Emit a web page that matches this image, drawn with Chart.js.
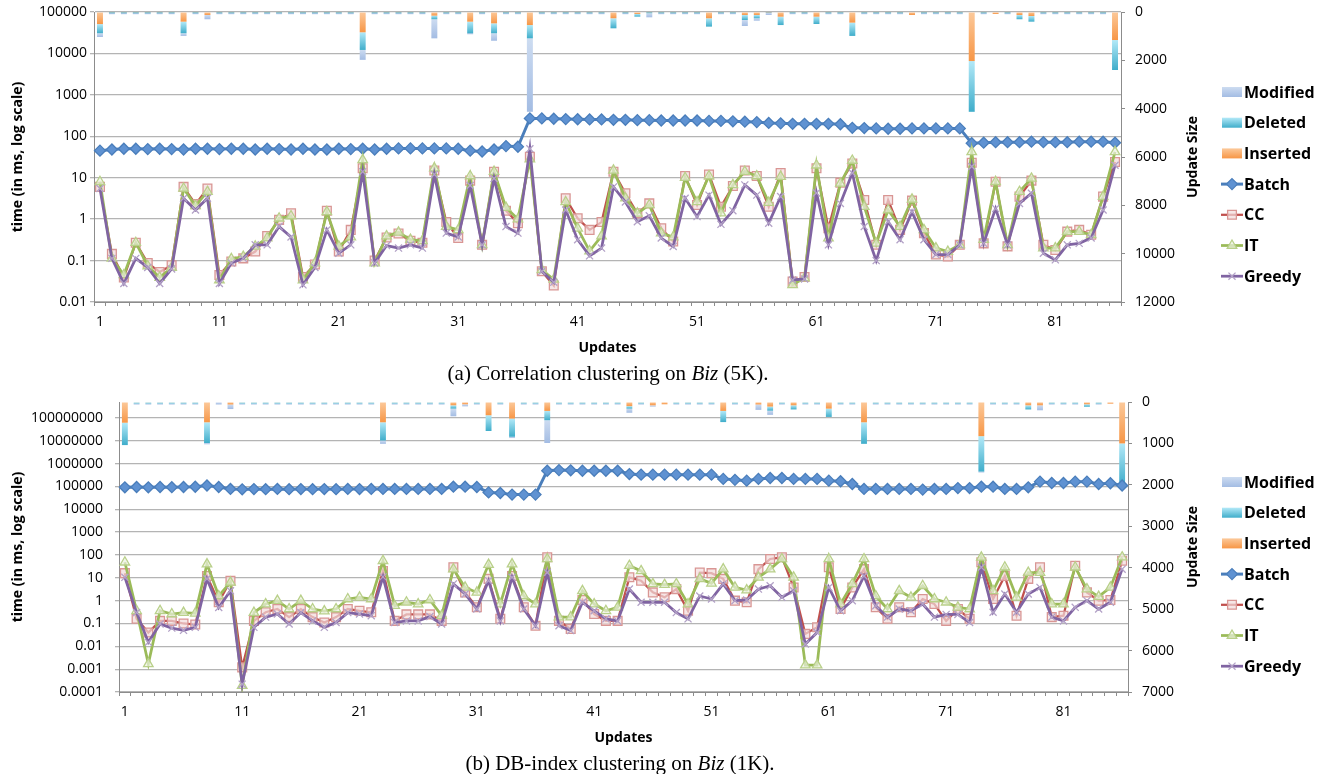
<!DOCTYPE html>
<html>
<head>
<meta charset="utf-8">
<script src="https://cdn.jsdelivr.net/npm/chart.js@4/dist/chart.umd.min.js"></script>
<style>
  html, body { margin: 0; padding: 0; background: #fff; width: 1325px; height: 774px; overflow: hidden; }
  canvas { position: absolute; left: 0; }
  .caption {
    position: absolute;
    font-family: "Liberation Serif", "Times New Roman", serif;
    font-size: 21px;
    line-height: 24px;
    color: #000;
    white-space: nowrap;
    transform: translateX(-50%);
  }
</style>
</head>
<body>
<canvas id="chartA" width="1325" height="390" style="top:0"></canvas>
<canvas id="chartB" width="1325" height="390" style="top:390px"></canvas>
<div class="caption" style="left:608px;top:361px">(a) Correlation clustering on <i>Biz</i> (5K).</div>
<div class="caption" style="left:620px;top:751px">(b) DB-index clustering on <i>Biz</i> (1K).</div>
<script>
// update number 1..86 on the x axis
const updates = Array.from({ length: 86 }, (_, i) => String(i + 1));

// ---- (a) correlation clustering, 5K ----
const timeTicksA = [0.01, 0.1, 1, 10, 100, 1000, 10000, 100000];
const sizeTicksA = [0, 2000, 4000, 6000, 8000, 10000, 12000];

const batchA = [45, 48, 50, 50, 49, 50, 49, 48, 50, 50,
  49, 50, 50, 48, 50, 49, 48, 50, 48, 48,
  50, 49, 50, 48, 50, 51, 51, 51, 51, 51,
  50, 45, 43, 48, 58, 56, 270, 270, 265, 260,
  258, 255, 255, 250, 250, 245, 245, 240, 240, 240,
  240, 235, 235, 230, 225, 220, 210, 205, 200, 200,
  200, 200, 195, 160, 158, 155, 152, 152, 155, 155,
  155, 155, 155, 68, 70, 72, 72, 72, 74, 72,
  72, 72, 74, 74, 74, 70];
const ccA = [6, 0.145, 0.039, 0.27, 0.087, 0.053, 0.077, 6, 2.3, 5.5,
  0.045, 0.095, 0.113, 0.165, 0.39, 0.96, 1.38, 0.04, 0.08, 1.6,
  0.165, 0.55, 17, 0.1, 0.36, 0.45, 0.3, 0.27, 15, 0.85,
  0.35, 8.5, 0.24, 14, 1.6, 0.8, 32, 0.055, 0.025, 3.2,
  1.05, 0.55, 0.85, 14, 4.2, 1.38, 2.4, 0.6, 0.29, 11,
  2.2, 12, 2.0, 6.3, 15, 11, 2.0, 13, 0.031, 0.04,
  17, 0.6, 7.6, 22, 2.9, 0.24, 2.9, 0.55, 2.8, 0.46,
  0.14, 0.125, 0.24, 23, 0.26, 8, 0.22, 3.5, 8.5, 0.24,
  0.18, 0.5, 0.55, 0.42, 3.5, 24];
const itA = [8, 0.113, 0.045, 0.27, 0.074, 0.039, 0.068, 5.5, 2.1, 4.6,
  0.034, 0.11, 0.125, 0.22, 0.35, 1.05, 1.19, 0.034, 0.087, 1.5,
  0.22, 0.37, 27, 0.087, 0.39, 0.48, 0.32, 0.3, 17, 0.66,
  0.55, 11, 0.24, 14, 1.9, 1.0, 28, 0.06, 0.035, 2.6,
  0.6, 0.17, 0.39, 15, 3.2, 1.38, 2.2, 0.46, 0.37, 10,
  2.6, 11, 1.4, 6.7, 14, 11, 2.5, 10.6, 0.026, 0.038,
  20, 0.35, 7.3, 26, 2.0, 0.26, 1.66, 0.66, 3.0, 0.55,
  0.2, 0.165, 0.24, 42, 0.32, 8, 0.24, 4.6, 9.6, 0.2,
  0.2, 0.5, 0.5, 0.42, 3.5, 42];
const greedyA = [5.5, 0.113, 0.028, 0.113, 0.068, 0.028, 0.063, 3.2, 1.66, 3.2,
  0.028, 0.087, 0.113, 0.24, 0.24, 0.66, 0.37, 0.026, 0.068, 0.55,
  0.15, 0.24, 14, 0.087, 0.23, 0.2, 0.24, 0.2, 12, 0.46,
  0.37, 6.5, 0.24, 9.6, 0.66, 0.46, 50, 0.055, 0.03, 1.66,
  0.32, 0.13, 0.2, 6, 2.6, 0.87, 1.2, 0.35, 0.22, 3.2,
  1.15, 3.8, 0.75, 1.6, 6.7, 3.8, 0.8, 3.5, 0.034, 0.036,
  4.3, 0.24, 2.4, 13, 0.66, 0.1, 0.87, 0.32, 1.5, 0.32,
  0.14, 0.14, 0.24, 18.6, 0.26, 1.8, 0.24, 2.4, 4.2, 0.15,
  0.104, 0.24, 0.26, 0.35, 1.66, 20];
const insertedA = [500, 15, 15, 15, 15, 15, 15, 400, 15, 124,
  15, 15, 15, 15, 15, 15, 15, 15, 15, 15,
  15, 15, 840, 15, 15, 15, 15, 15, 150, 15,
  15, 400, 15, 470, 15, 15, 540, 15, 15, 15,
  15, 15, 15, 260, 15, 83, 15, 15, 15, 15,
  15, 260, 15, 15, 124, 124, 10, 193, 15, 15,
  193, 15, 15, 440, 15, 15, 15, 15, 124, 15,
  15, 15, 15, 2030, 15, 83, 15, 124, 165, 15,
  15, 15, 15, 15, 15, 1160];
const deletedA = [380, 35, 35, 35, 35, 35, 35, 480, 35, 0,
  35, 35, 35, 35, 35, 35, 35, 35, 35, 35,
  35, 35, 730, 35, 35, 35, 35, 35, 150, 35,
  35, 480, 35, 410, 35, 35, 550, 35, 35, 35,
  35, 35, 35, 415, 35, 110, 35, 35, 35, 35,
  35, 345, 35, 35, 206, 136, 20, 347, 35, 35,
  304, 35, 35, 550, 35, 35, 35, 35, 0, 35,
  35, 35, 35, 2100, 35, 0, 35, 176, 235, 35,
  35, 35, 35, 35, 35, 1240];
const modifiedA = [155, 40, 40, 40, 40, 40, 40, 110, 40, 176,
  40, 40, 40, 40, 40, 40, 40, 40, 40, 40,
  40, 40, 410, 40, 40, 40, 40, 40, 790, 40,
  40, 40, 40, 310, 40, 40, 3040, 40, 40, 40,
  40, 40, 40, 0, 40, 0, 170, 40, 40, 40,
  40, 0, 40, 40, 250, 100, 94, 0, 40, 40,
  0, 40, 40, 0, 40, 40, 40, 40, 0, 40,
  40, 40, 40, 0, 40, 0, 40, 0, 0, 40,
  40, 40, 40, 40, 40, 0];

// ---- (b) DB-index clustering, 1K ----
const timeTicksB = [0.0001, 0.001, 0.01, 0.1, 1, 10, 100, 1000, 10000, 100000, 1000000, 10000000, 100000000];
const sizeTicksB = [0, 1000, 2000, 3000, 4000, 5000, 6000, 7000];

const batchB = [92000, 95000, 92000, 95000, 93000, 95000, 97000, 110000, 95000, 78000,
  75000, 77000, 76000, 78000, 76000, 77000, 76000, 77000, 76000, 78000,
  77000, 78000, 78000, 78000, 78000, 78000, 78000, 78000, 98000, 98000,
  95000, 55000, 52000, 44000, 44000, 44000, 490000, 520000, 510000, 490000,
  490000, 490000, 490000, 350000, 330000, 330000, 330000, 330000, 330000, 330000,
  330000, 215000, 195000, 180000, 215000, 235000, 235000, 215000, 215000, 215000,
  180000, 170000, 128000, 78000, 78000, 78000, 78000, 78000, 73000, 78000,
  78000, 85000, 85000, 98000, 98000, 78000, 78000, 92000, 163000, 142000,
  142000, 163000, 163000, 128000, 138000, 110000];
const ccB = [16, 0.16, 0.04, 0.13, 0.13, 0.1, 0.09, 12, 0.85, 7.5,
  0.0012, 0.13, 0.31, 0.43, 0.19, 0.43, 0.19, 0.11, 0.19, 0.43,
  0.36, 0.31, 20, 0.13, 0.25, 0.25, 0.25, 0.13, 29, 2.3,
  0.51, 9, 0.16, 12, 0.51, 0.08, 79, 0.13, 0.058, 1.07,
  0.26, 0.13, 0.13, 10.5, 7.5, 2.3, 1.4, 3.2, 0.36, 17,
  16, 9, 1.0, 0.85, 24, 67, 79, 3.8, 0.035, 0.068,
  29, 0.43, 3.8, 24, 0.51, 0.16, 0.51, 0.31, 1.18, 0.71,
  0.13, 0.43, 0.16, 48, 1.18, 12, 0.22, 9, 29, 0.19,
  0.22, 34, 2.3, 1.0, 1.07, 56];
const itB = [48, 0.36, 0.0017, 0.36, 0.26, 0.3, 0.28, 40, 1.6, 6.3,
  0.00019, 0.3, 0.71, 1.0, 0.43, 1.0, 0.43, 0.35, 0.43, 1.18,
  1.4, 1.18, 56, 0.6, 0.85, 0.71, 1.07, 0.22, 24, 3.8,
  2.3, 38, 0.71, 40, 1.6, 0.71, 67, 0.19, 0.19, 2.7,
  0.71, 0.36, 0.51, 34, 20, 5.4, 5, 5.4, 0.71, 9,
  5.7, 24, 3.8, 2.9, 10.5, 24, 67, 10.5, 0.0015, 0.0015,
  67, 0.71, 5.4, 67, 1.6, 0.43, 2.7, 1.4, 4.5, 1.18,
  0.85, 0.51, 0.43, 79, 2.7, 29, 1.4, 17, 17, 0.71,
  0.71, 29, 3.2, 1.5, 3.8, 80];
const greedyB = [10.5, 0.3, 0.015, 0.095, 0.063, 0.05, 0.068, 9, 0.5, 2.7,
  0.00022, 0.068, 0.19, 0.26, 0.095, 0.3, 0.13, 0.068, 0.11, 0.3,
  0.26, 0.22, 11, 0.11, 0.13, 0.13, 0.2, 0.095, 5.4, 1.96,
  0.43, 7.5, 0.13, 10.5, 0.43, 0.08, 17, 0.08, 0.049, 0.85,
  0.36, 0.16, 0.13, 3.2, 0.85, 0.85, 0.85, 0.3, 0.16, 1.6,
  1.18, 5.4, 1.0, 1.07, 3.2, 4.5, 1.4, 2.7, 0.0126, 0.04,
  3.8, 0.36, 1.0, 12, 0.6, 0.19, 0.43, 0.36, 0.71, 0.19,
  0.25, 0.25, 0.11, 29, 0.31, 1.96, 0.31, 1.96, 3.8, 0.19,
  0.13, 0.51, 1.0, 0.43, 0.85, 24];
const insertedB = [500, 10, 10, 10, 10, 10, 10, 490, 0, 60,
  10, 10, 10, 10, 10, 10, 10, 10, 10, 10,
  10, 10, 490, 10, 10, 10, 10, 10, 80, 55,
  10, 320, 10, 400, 10, 10, 215, 10, 10, 10,
  10, 10, 10, 100, 10, 80, 55, 10, 10, 10,
  10, 215, 10, 10, 60, 110, 10, 80, 10, 10,
  160, 10, 10, 490, 10, 10, 10, 10, 10, 10,
  10, 10, 10, 825, 10, 10, 10, 80, 80, 10,
  10, 10, 55, 10, 40, 1000];
const deletedB = [540, 25, 25, 25, 25, 25, 25, 500, 0, 0,
  25, 25, 25, 25, 25, 25, 25, 25, 25, 25,
  25, 25, 440, 25, 25, 25, 25, 25, 80, 0,
  25, 380, 25, 440, 25, 25, 225, 25, 25, 25,
  25, 25, 25, 60, 25, 0, 0, 25, 25, 25,
  25, 270, 25, 25, 0, 100, 25, 100, 25, 25,
  200, 25, 25, 520, 25, 25, 25, 25, 25, 25,
  25, 25, 25, 855, 25, 25, 25, 100, 0, 25,
  25, 25, 60, 25, 0, 1000];
const modifiedB = [0, 25, 25, 25, 25, 25, 25, 30, 60, 110,
  25, 25, 25, 25, 25, 25, 25, 25, 25, 25,
  25, 25, 80, 25, 25, 25, 25, 25, 185, 50,
  25, 0, 25, 30, 25, 25, 550, 25, 25, 25,
  25, 25, 25, 100, 25, 30, 0, 25, 25, 25,
  25, 0, 25, 25, 130, 100, 25, 0, 25, 25,
  0, 25, 25, 0, 25, 25, 25, 25, 25, 25,
  25, 25, 25, 20, 25, 25, 25, 0, 120, 25,
  25, 25, 0, 25, 0, 0];

const legendOrder = ["Modified", "Deleted", "Inserted", "Batch", "CC", "IT", "Greedy"];

Chart.defaults.font.family = '"Open Sans", sans-serif';
Chart.defaults.color = "#000";

const axisGray = "#8c8c8c";
const tickFont = { size: 14 };
const titleFont = { size: 14, weight: "bold" };

function drawMarker(c, style, x, y, r) {
  c.beginPath();
  if (style === "rectRot") {
    c.moveTo(x, y - r); c.lineTo(x + r, y); c.lineTo(x, y + r); c.lineTo(x - r, y); c.closePath();
  } else if (style === "rect") {
    const s = r * Math.SQRT1_2;
    c.rect(x - s, y - s, 2 * s, 2 * s);
  } else if (style === "triangle") {
    c.moveTo(x, y - r); c.lineTo(x + r * 0.87, y + r * 0.5); c.lineTo(x - r * 0.87, y + r * 0.5); c.closePath();
  } else {
    const s = r * Math.SQRT1_2;
    c.moveTo(x - s, y - s); c.lineTo(x + s, y + s);
    c.moveTo(x + s, y - s); c.lineTo(x - s, y + s);
  }
  if (style !== "crossRot") c.fill();
  c.stroke();
}

// right axis title (reads upward) and the legend at the far right
const sideDecor = {
  id: "sideDecor",
  afterDraw(chart) {
    const c = chart.ctx;
    const area = chart.chartArea;
    c.save();
    c.translate(1193, (area.top + area.bottom) / 2);
    c.rotate(-Math.PI / 2);
    c.font = 'bold 14px "Open Sans"';
    c.fillStyle = "#000";
    c.textAlign = "center";
    c.textBaseline = "middle";
    c.fillText("Update Size", 0, 0);
    c.restore();

    c.save();
    legendOrder.forEach((name, k) => {
      const ds = chart.data.datasets.find((d) => d.label === name);
      const y = area.top + 80 + k * 30.7;
      if (ds.type === "line") {
        c.strokeStyle = ds.borderColor;
        c.lineWidth = ds.borderWidth;
        c.beginPath(); c.moveTo(1221, y); c.lineTo(1243, y); c.stroke();
        c.fillStyle = ds.pointBackgroundColor;
        c.strokeStyle = ds.pointBorderColor;
        c.lineWidth = ds.pointBorderWidth;
        drawMarker(c, ds.pointStyle, 1232, y, ds.pointRadius);
      } else {
        const g = c.createLinearGradient(0, y - 5, 0, y + 5);
        g.addColorStop(0, ds.swatch[0]);
        g.addColorStop(1, ds.swatch[1]);
        c.fillStyle = g;
        c.fillRect(1222, y - 5, 20, 10);
      }
      c.fillStyle = "#000";
      c.font = 'bold 16px "Open Sans"';
      c.textAlign = "left";
      c.textBaseline = "middle";
      c.fillText(name, 1244, y + 1);
    });
    c.restore();
  },
};

function lineSet(label, data, color, style, radius, fill, edge, width) {
  return {
    type: "line", label, data, yAxisID: "y",
    borderColor: color, borderWidth: width, tension: 0, fill: false,
    pointStyle: style, pointRadius: radius, pointBackgroundColor: fill,
    pointBorderColor: edge, pointBorderWidth: 1.3,
  };
}

// each stacked segment gets its own light-to-dark vertical gradient
function segmentFill(light, dark) {
  return (context) => {
    const chart = context.chart;
    const scale = chart.scales.y2;
    if (!scale || context.type !== "data") return dark;
    const i = context.dataIndex;
    let start = 0;
    for (let d = 0; d < context.datasetIndex; d++) {
      const ds = chart.data.datasets[d];
      if (ds.type === "bar") start += ds.data[i];
    }
    const y0 = scale.getPixelForValue(start);
    const y1 = scale.getPixelForValue(start + context.raw);
    if (!isFinite(y0) || !isFinite(y1) || y1 - y0 < 1) return dark;
    const g = chart.ctx.createLinearGradient(0, y0, 0, y1);
    g.addColorStop(0, light);
    g.addColorStop(1, dark);
    return g;
  };
}

function barSet(label, data, light, dark) {
  return {
    type: "bar", label, data, yAxisID: "y2", stack: "upd",
    backgroundColor: segmentFill(light, dark), swatch: [light, dark], borderWidth: 0,
    barPercentage: 0.5, categoryPercentage: 1.0,
  };
}

// vertical axes: no extra room for half labels, so the plot edges land where set
function noVertPad(s) {
  s.paddingTop = 0;
  s.paddingBottom = 0;
}

function makePanel(canvasId, p) {
  const ctx = document.getElementById(canvasId).getContext("2d");
  return new Chart(ctx, {
    type: "bar",
    data: {
      labels: updates,
      datasets: [
        lineSet("Greedy", p.greedy, "#8064a2", "crossRot", 5, "#b3a2c7", "#b3a2c7", 2.75),
        lineSet("IT", p.it, "#9bbb59", "triangle", 5.5, "rgba(235,241,222,0.7)", "#b9d08a", 2.75),
        lineSet("CC", p.cc, "#c0504d", "rect", 6.2, "rgba(242,220,219,0.7)", "#d99694", 2.25),
        lineSet("Batch", p.batch, "#4a7ebb", "rectRot", 5.5, "#5f92d2", "#4a7ebb", 3),
        barSet("Inserted", p.inserted, "#fcc99a", "#f79646"),
        barSet("Deleted", p.deleted, "#b3e9f8", "#3fadca"),
        barSet("Modified", p.modified, "#cddcf1", "#a3bce3"),
      ],
    },
    options: {
      responsive: false,
      animation: false,
      layout: { padding: { top: 12, right: p.rightPad, bottom: 32, left: 0 } },
      plugins: { legend: { display: false }, tooltip: { enabled: false } },
      scales: {
        x: {
          type: "category", stacked: true, offset: true,
          grid: { offset: true, drawOnChartArea: false, tickLength: 4, color: axisGray },
          border: { color: axisGray },
          ticks: {
            autoSkip: false, maxRotation: 0, padding: 8, font: tickFont,
            callback: (v, i) => (i % 10 === 0 ? updates[i] : ""),
          },
          afterFit: (s) => { s.height = 56; s.paddingLeft = 0; s.paddingRight = 0; },
          title: { display: true, text: "Updates", font: titleFont, padding: { top: 0, bottom: 2 } },
        },
        y: {
          type: "logarithmic", position: "left",
          min: p.timeMin, max: p.timeMax,
          afterBuildTicks: (s) => { s.ticks = p.timeTicks.map((v) => ({ value: v })); },
          afterFit: (s) => { s.width = p.leftWidth; noVertPad(s); },
          grid: { color: "#b4b4b4", lineWidth: 1.3, tickLength: 4 },
          border: { color: axisGray },
          ticks: { font: tickFont, padding: p.leftPad, callback: (v) => String(v) },
          title: {
            display: true, text: "time (in ms, log scale)", font: titleFont,
            padding: { top: 10, bottom: 0 },
          },
        },
        y2: {
          type: "linear", position: "right", reverse: true, stacked: true,
          min: 0, max: p.sizeMax,
          afterBuildTicks: (s) => { s.ticks = p.sizeTicks.map((v) => ({ value: v })); },
          afterFit: (s) => { s.width = 60; noVertPad(s); },
          grid: { drawOnChartArea: false, tickLength: 4, color: axisGray },
          border: { color: axisGray },
          ticks: { font: tickFont, padding: 10, callback: (v) => String(v) },
        },
      },
    },
    plugins: [sideDecor],
  });
}

makePanel("chartA", {
  batch: batchA, cc: ccA, it: itA, greedy: greedyA,
  inserted: insertedA, deleted: deletedA, modified: modifiedA,
  timeMin: 0.01, timeMax: 100000, timeTicks: timeTicksA,
  sizeMax: 12000, sizeTicks: sizeTicksA,
  leftWidth: 94, leftPad: 3, rightPad: 144,
});

makePanel("chartB", {
  batch: batchB, cc: ccB, it: itB, greedy: greedyB,
  inserted: insertedB, deleted: deletedB, modified: modifiedB,
  timeMin: 0.0001, timeMax: 500000000, timeTicks: timeTicksB,
  sizeMax: 7000, sizeTicks: sizeTicksB,
  leftWidth: 119, leftPad: 12, rightPad: 137,
});
</script>
</body>
</html>
